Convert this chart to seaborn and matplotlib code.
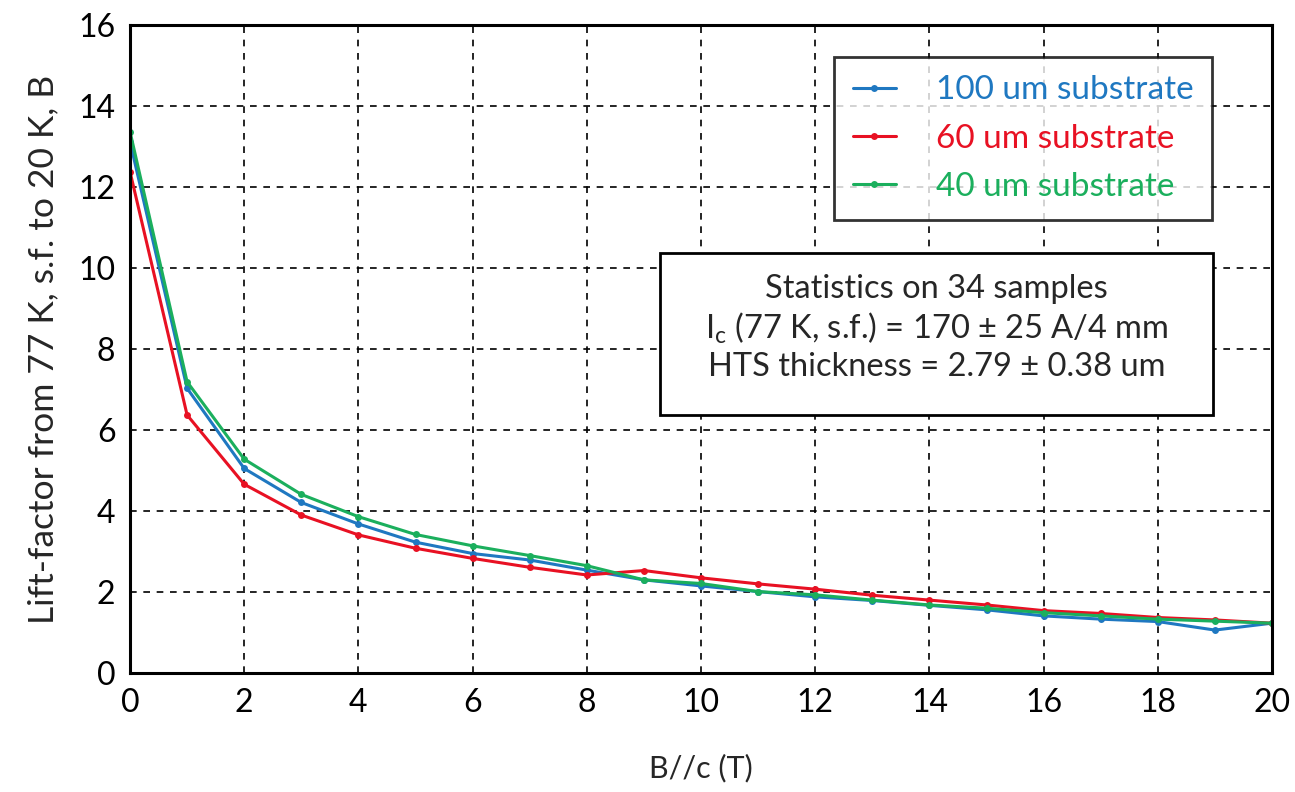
import matplotlib.pyplot as plt
import numpy as np
import pandas as pd
import seaborn as sns

# Field values (T)
field = list(range(21))

# Lift-factor readings for each substrate
lift_100um = [13.12, 7.03, 5.05, 4.21, 3.68, 3.23, 2.95, 2.79, 2.54, 2.30, 2.15,
              2.01, 1.88, 1.79, 1.67, 1.56, 1.41, 1.33, 1.27, 1.06, 1.23]
lift_60um = [12.38, 6.37, 4.66, 3.90, 3.41, 3.08, 2.83, 2.61, 2.42, 2.53, 2.35,
             2.20, 2.07, 1.92, 1.80, 1.68, 1.54, 1.47, 1.37, 1.31, 1.23]
lift_40um = [13.37, 7.19, 5.28, 4.41, 3.86, 3.42, 3.14, 2.90, 2.65, 2.30, 2.21,
             2.01, 1.93, 1.80, 1.68, 1.60, 1.49, 1.41, 1.33, 1.28, 1.23]

series_names = ["100 um substrate", "60 um substrate", "40 um substrate"]
colors = ["#1F78C1", "#E81123", "#1BAF5D"]

df = pd.concat(
    [
        pd.DataFrame({"B": field, "lift": vals, "sample": name})
        for name, vals in zip(series_names, [lift_100um, lift_60um, lift_40um])
    ]
)

sns.set_style("white")
plt.rcParams["font.family"] = ["Lato", "DejaVu Sans"]
plt.rcParams["mathtext.fontset"] = "custom"
plt.rcParams["mathtext.rm"] = "Lato"

fig = plt.figure(figsize=(12.95, 7.92), dpi=100)
ax = fig.add_axes([130 / 1295, 1 - 673 / 792, (1272 - 130) / 1295, (673 - 25) / 792])

sns.lineplot(
    data=df,
    x="B",
    y="lift",
    hue="sample",
    hue_order=series_names,
    palette=colors,
    marker="o",
    markersize=5,
    markeredgewidth=0,
    linewidth=2.2,
    ax=ax,
)

ax.set_xlim(0, 20)
ax.set_ylim(0, 16)
ax.set_xticks(np.arange(0, 21, 2))
ax.set_yticks(np.arange(0, 17, 2))
ax.grid(True, color="black", linestyle=(0, (4, 4)), linewidth=1.2)
ax.set_axisbelow(True)
for spine in ax.spines.values():
    spine.set_color("black")
    spine.set_linewidth(2.2)
ax.tick_params(direction="out", length=7, width=2, colors="black", labelsize=23)

ax.set_xlabel("B//c (T)", fontsize=22, labelpad=26)
ax.set_ylabel("Lift-factor from 77 K, s.f. to 20 K, B", fontsize=25.5, labelpad=14)

# Legend with coloured text
leg = ax.legend(
    loc="upper right",
    bbox_to_anchor=(1082 / 1142, 1 - 32 / 648),
    fontsize=24,
    frameon=True,
    fancybox=False,
    edgecolor="black",
    handlelength=1.3,
    handletextpad=1.2,
    labelspacing=0.55,
    borderpad=0.55,
    borderaxespad=0,
)
leg.get_frame().set_linewidth(2)
for text, color in zip(leg.get_texts(), colors):
    text.set_color(color)

# Statistics box
stats_text = (
    "Statistics on 34 samples\n"
    r"I$_\mathrm{c}$ (77 K, s.f.) = 170 ± 25 A/4 mm" "\n"
    "HTS thickness = 2.79 ± 0.38 um"
)
box_x0, box_x1, box_y0, box_y1 = 660, 1213, 253, 415
fig.patches.append(
    plt.Rectangle(
        (box_x0 / 1295, 1 - box_y1 / 792),
        (box_x1 - box_x0) / 1295,
        (box_y1 - box_y0) / 792,
        transform=fig.transFigure,
        facecolor="white",
        edgecolor="black",
        linewidth=2,
        zorder=5,
    )
)
fig.text(
    (box_x0 + box_x1) / 2 / 1295,
    1 - 328 / 792,
    stats_text,
    ha="center",
    va="center",
    fontsize=23.5,
    linespacing=1.25,
    zorder=6,
)

plt.savefig("out.png", dpi=100)
plt.close()
